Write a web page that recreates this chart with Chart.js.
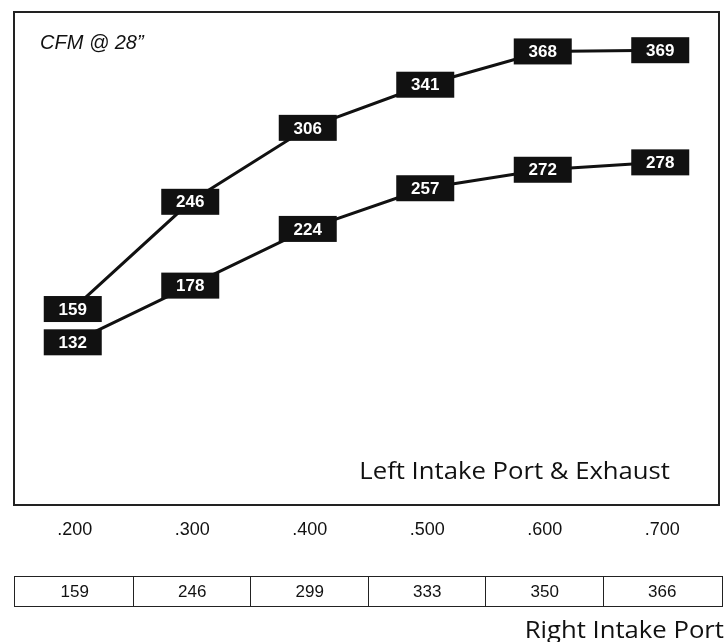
<!DOCTYPE html>
<html>
<head>
<meta charset="utf-8">
<script src="https://cdn.jsdelivr.net/npm/chart.js@4"></script>
<style>
  html, body { margin: 0; padding: 0; background: #fff; }
  #wrap { width: 725px; height: 642px; position: relative; }
</style>
</head>
<body>
<div id="wrap"><canvas id="cfmChart" width="725" height="642"></canvas></div>
<script>
const lifts = ['.200', '.300', '.400', '.500', '.600', '.700'];
const exhaustFlow = [159, 246, 306, 341, 368, 369];
const leftIntakeFlow = [132, 178, 224, 257, 272, 278];
const rightIntakeFlow = [159, 246, 299, 333, 350, 366];

const ink = '#111';

// right-aligned caption, a bit wider than the font normally is
function wideText(ctx, txt, rightX, baseY, stretch) {
    ctx.save();
    ctx.textAlign = 'right';
    ctx.textBaseline = 'alphabetic';
    ctx.translate(rightX, baseY);
    ctx.scale(stretch, 1);
    ctx.fillText(txt, 0, 0);
    ctx.restore();
}

// boxes, labels, table and notes drawn on top of the chart
const decor = {
    id: 'decor',
    afterDatasetsDraw(chart) {
        const ctx = chart.ctx;
        const a = chart.chartArea;
        const x = chart.scales.x;

        ctx.save();
        // frame
        ctx.strokeStyle = '#222';
        ctx.lineWidth = 2;
        ctx.strokeRect(a.left, a.top, a.right - a.left, a.bottom - a.top);

        // value boxes
        ctx.font = 'bold 17px "Liberation Sans", Arial, sans-serif';
        ctx.textAlign = 'center';
        ctx.textBaseline = 'middle';
        chart.data.datasets.forEach((ds, i) => {
            chart.getDatasetMeta(i).data.forEach((pt, j) => {
                ctx.fillStyle = ink;
                ctx.fillRect(pt.x - 29, pt.y - 13, 58, 26);
                ctx.fillStyle = '#fff';
                ctx.fillText(String(ds.data[j]), pt.x, pt.y + 1);
            });
        });

        // title note
        ctx.fillStyle = ink;
        ctx.textAlign = 'left';
        ctx.textBaseline = 'alphabetic';
        ctx.font = 'italic 20px "Liberation Sans", Arial, sans-serif';
        ctx.fillText('CFM @ 28\u201D', 40, 49);

        ctx.font = '24px "Open Sans", "Noto Sans", sans-serif';
        wideText(ctx, 'Left Intake Port & Exhaust', 670, 479, 1.07);

        // lift labels
        ctx.font = '18px "Liberation Sans", Arial, sans-serif';
        ctx.textAlign = 'center';
        ctx.textBaseline = 'middle';
        lifts.forEach((l, j) => {
            ctx.fillText(l, x.getPixelForValue(j) + 2, 530);
        });

        // right intake table
        const top = 576, h = 30, left = 14, right = 722;
        ctx.lineWidth = 1;
        ctx.strokeStyle = '#222';
        ctx.strokeRect(left + 0.5, top + 0.5, right - left, h);
        for (let j = 1; j < lifts.length; j++) {
            const bx = Math.round((x.getPixelForValue(j - 1) + x.getPixelForValue(j)) / 2) + 1.5;
            ctx.beginPath();
            ctx.moveTo(bx, top);
            ctx.lineTo(bx, top + h);
            ctx.stroke();
        }
        ctx.font = '17px "Liberation Sans", Arial, sans-serif';
        rightIntakeFlow.forEach((v, j) => {
            ctx.fillText(String(v), x.getPixelForValue(j) + 2, top + h / 2 + 1);
        });

        ctx.font = '24px "Open Sans", "Noto Sans", sans-serif';
        wideText(ctx, 'Right Intake Port', 724, 638, 1.07);
        ctx.restore();
    }
};

new Chart(document.getElementById('cfmChart'), {
    type: 'line',
    data: {
        labels: lifts,
        datasets: [
            { label: 'Exhaust', data: exhaustFlow },
            { label: 'Left Intake', data: leftIntakeFlow }
        ]
    },
    options: {
        responsive: false,
        animation: false,
        events: [],
        layout: { padding: { left: 14, top: 12, right: 6, bottom: 137 } },
        elements: {
            line: { borderColor: ink, borderWidth: 3, tension: 0 },
            point: { radius: 0 }
        },
        plugins: { legend: { display: false }, tooltip: { enabled: false } },
        scales: {
            x: { type: 'category', offset: true, display: false },
            y: { min: 0, max: 400, display: false }
        }
    },
    plugins: [decor]
});
</script>
</body>
</html>
